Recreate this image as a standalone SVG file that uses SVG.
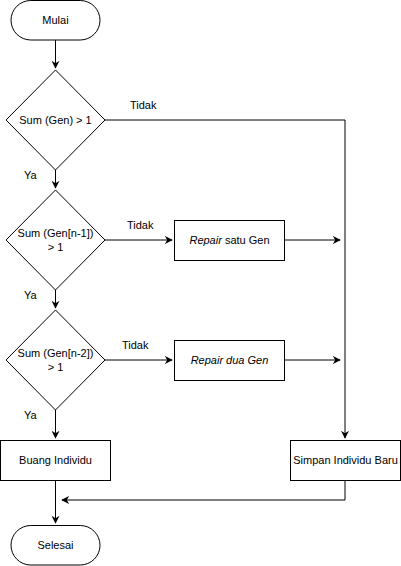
<svg xmlns="http://www.w3.org/2000/svg" width="401" height="566" viewBox="0 0 401 566">
<defs>
<marker id="arr" viewBox="0 0 10 10" refX="9" refY="5" markerWidth="8" markerHeight="8" markerUnits="userSpaceOnUse" orient="auto">
<path d="M0,0 L10,5 L0,10 L3,5 Z" fill="#000"/>
</marker>
</defs>
<style>
.s{fill:#fff;stroke:#000;stroke-width:1}
.c{fill:none;stroke:#000;stroke-width:1}
text{font-family:"Liberation Sans",Arial,sans-serif;font-size:11px;fill:#000}
.m{text-anchor:middle}
</style>
<rect width="401" height="566" fill="#fff"/>
<g id="connectors">
<path class="c" d="M55.5,40 V68" marker-end="url(#arr)"/>
<path class="c" d="M105,120 H345 V438" marker-end="url(#arr)"/>
<path class="c" d="M55.5,170 V188" marker-end="url(#arr)"/>
<path class="c" d="M105,240 H172" marker-end="url(#arr)"/>
<path class="c" d="M284,240 H340" marker-end="url(#arr)"/>
<path class="c" d="M55.5,290 V308" marker-end="url(#arr)"/>
<path class="c" d="M105,360 H172" marker-end="url(#arr)"/>
<path class="c" d="M284,360 H340" marker-end="url(#arr)"/>
<path class="c" d="M55.5,410 V438" marker-end="url(#arr)"/>
<path class="c" d="M55.5,480 V523" marker-end="url(#arr)"/>
<path class="c" d="M345,480 V500 H62" marker-end="url(#arr)"/>
<text x="130" y="109">Tidak</text>
<text x="24" y="179">Ya</text>
<text x="127" y="229">Tidak</text>
<text x="24" y="299">Ya</text>
<text x="122" y="349">Tidak</text>
<text x="24" y="419">Ya</text>
</g>
<g id="mulai">
<rect class="s" x="11" y="0.5" width="89" height="39.5" rx="19.75"/>
<text class="m" x="55.5" y="24">Mulai</text>
</g>
<g id="cond1">
<path class="s" d="M55.5,70 L105,120 L55.5,170 L6,120 Z"/>
<text class="m" x="55.5" y="124">Sum (Gen) &gt; 1</text>
</g>
<g id="cond2">
<path class="s" d="M55.5,190 L105,240 L55.5,290 L6,240 Z"/>
<text class="m" x="55.5" y="237">Sum (Gen[n-1])</text>
<text class="m" x="55.5" y="251">&gt; 1</text>
</g>
<g id="cond3">
<path class="s" d="M55.5,310 L105,360 L55.5,410 L6,360 Z"/>
<text class="m" x="55.5" y="357">Sum (Gen[n-2])</text>
<text class="m" x="55.5" y="371">&gt; 1</text>
</g>
<g id="repair1">
<rect class="s" x="174.5" y="220.5" width="110" height="40"/>
<text class="m" x="229.5" y="244"><tspan font-style="italic">Repair</tspan> satu Gen</text>
</g>
<g id="repair2">
<rect class="s" x="174.5" y="340.5" width="110" height="40"/>
<text class="m" x="229.5" y="364" font-style="italic">Repair dua Gen</text>
</g>
<g id="buang">
<rect class="s" x="0.5" y="440.5" width="110" height="40"/>
<text class="m" x="55.5" y="464">Buang Individu</text>
</g>
<g id="simpan">
<rect class="s" x="290.5" y="440.5" width="110" height="40"/>
<text class="m" x="345.5" y="464">Simpan Individu Baru</text>
</g>
<g id="selesai">
<rect class="s" x="11" y="525.5" width="89" height="39.5" rx="19.75"/>
<text class="m" x="55.5" y="549">Selesai</text>
</g>
</svg>
